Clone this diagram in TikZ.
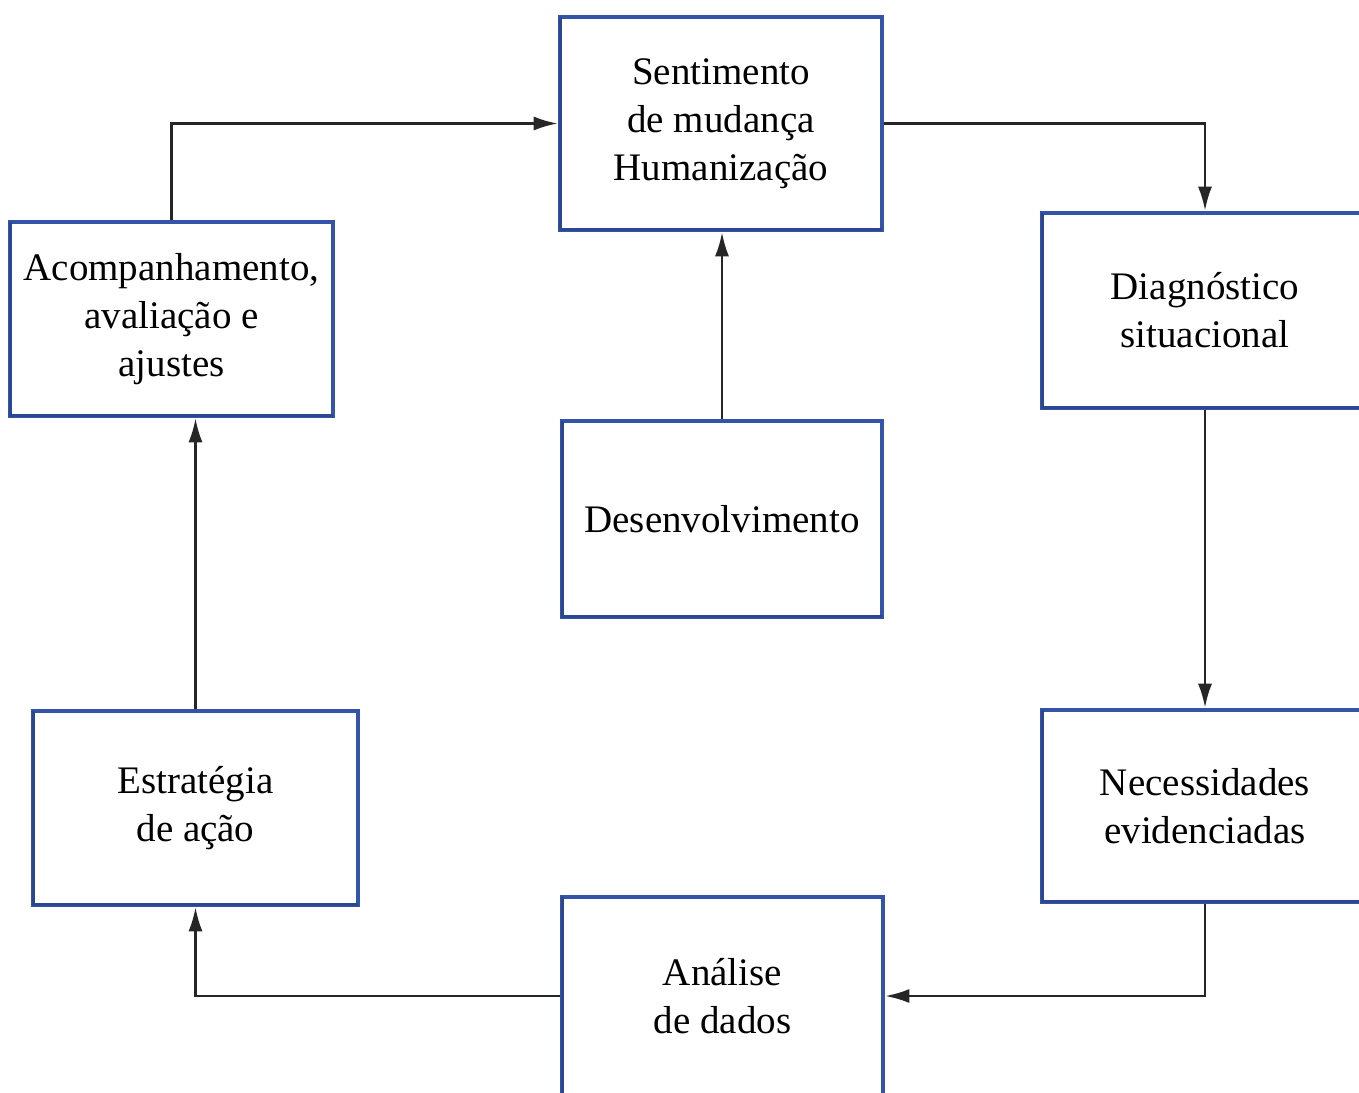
\documentclass[tikz,border=0pt]{standalone}
\usepackage{fontspec}
\setmainfont{Liberation Serif}
\usetikzlibrary{arrows.meta,calc}
\definecolor{boxblue}{RGB}{52,84,170}
\begin{document}
\begin{tikzpicture}[x=0.5pt,y=-0.5pt,
  stagebox/.style={draw=boxblue,line width=2.3pt,fill=white,align=center,
    font=\fontsize{19.5}{24}\selectfont,inner sep=0pt},
  flow/.style={draw=black!85,line width=1.2pt,-{Latex[length=12pt,width=7pt]}}]
\useasboundingbox[fill=white] (0,0) rectangle (1359,1092);
\node[stagebox,minimum width=161pt,minimum height=106.5pt] (sent) at (721,123.5) {Sentimento\\de mudança\\Humanização};
\node[stagebox,minimum width=163pt,minimum height=97.5pt] (diag) at (1205,310.5) {Diagnóstico\\situacional};
\node[stagebox,minimum width=161.5pt,minimum height=97pt] (acomp) at (171.5,319) {Acompanhamento,\\avaliação e\\ajustes};
\node[stagebox,minimum width=160pt,minimum height=98pt] (desenv) at (722,519) {Desenvolvimento};
\node[stagebox,minimum width=162.5pt,minimum height=97pt] (estr) at (195.5,808) {Estratégia\\de ação};
\node[stagebox,minimum width=163pt,minimum height=96pt] (nec) at (1205,806) {Necessidades\\evidenciadas};
\node[stagebox,minimum width=160.5pt,minimum height=99pt] (anal) at (722.5,996) {Análise\\de dados};
\foreach \n in {sent,diag,acomp,desenv,estr,nec,anal}{
  \draw[boxblue!85!black,line width=1.4pt]
    ($(\n.north west)+(2.5,2)$) -- ($(\n.south west)+(2.5,-2.5)$) -- ($(\n.south east)+(-2,-2.5)$);
}
\draw[flow] (acomp.north) |- (sent.west);
\draw[flow] (sent.east) -| (diag.north);
\draw[flow] (diag.south) -- (nec.north);
\draw[flow] (nec.south) |- (anal.east);
\draw[flow] (anal.west) -| (estr.south);
\draw[flow] (estr.north) -- (estr.north |- acomp.south);
\draw[flow] (desenv.north) -- (desenv.north |- sent.south);
\end{tikzpicture}
\end{document}
